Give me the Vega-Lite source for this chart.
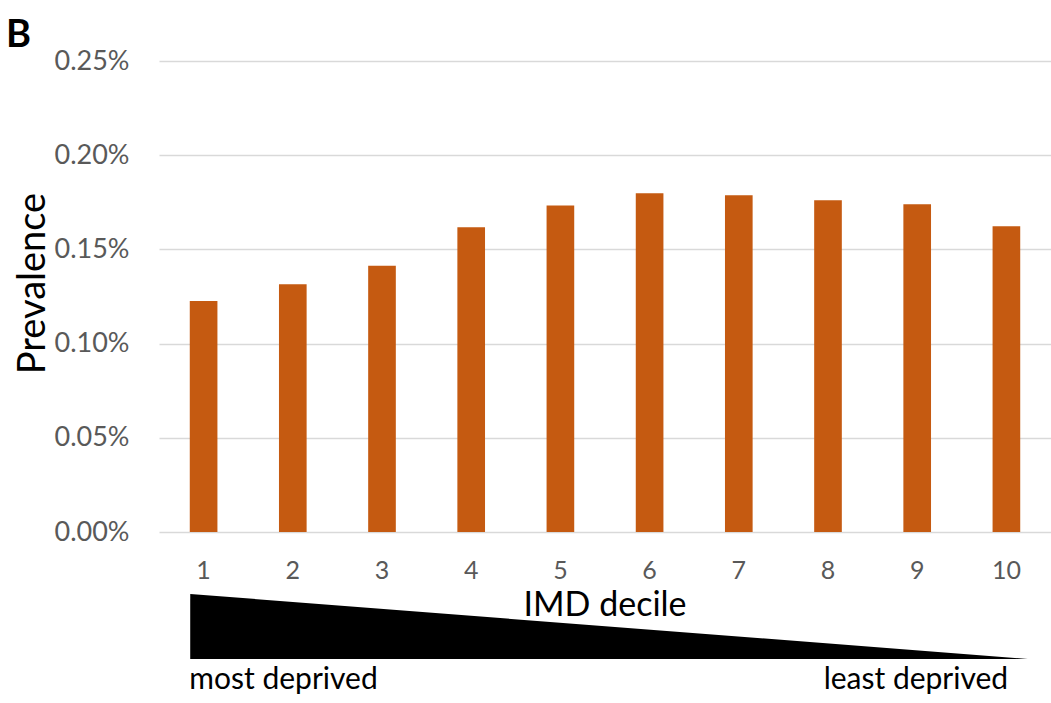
{
  "$schema": "https://vega.github.io/schema/vega-lite/v6.json",
  "padding": {"left": 6, "top": 17, "right": 0, "bottom": 0},
  "background": "white",
  "config": {"font": "Lato", "view": {"stroke": null}},
  "title": {"text": "B", "anchor": "start", "frame": "bounds", "fontSize": 38, "fontWeight": "bold", "color": "black", "offset": -8, "dx": -8},
  "bounds": "flush",
  "spacing": 62,
  "vconcat": [
    {
      "width": 892,
      "height": 471,
      "data": {"values": [
        {"decile": "1", "prevalence": 0.001226},
        {"decile": "2", "prevalence": 0.001315},
        {"decile": "3", "prevalence": 0.001413},
        {"decile": "4", "prevalence": 0.001617},
        {"decile": "5", "prevalence": 0.001733},
        {"decile": "6", "prevalence": 0.001798},
        {"decile": "7", "prevalence": 0.001787},
        {"decile": "8", "prevalence": 0.001761},
        {"decile": "9", "prevalence": 0.001739},
        {"decile": "10", "prevalence": 0.001623}
      ]},
      "mark": {"type": "bar", "color": "#c55a11", "width": {"band": 0.31}},
      "encoding": {
        "x": {
          "field": "decile", "type": "ordinal", "sort": null,
          "scale": {"paddingInner": 0, "paddingOuter": 0},
          "axis": {"labelAngle": 0, "labelFontSize": 25, "labelColor": "#595959", "labelPadding": 26, "ticks": false, "tickSize": 0, "domain": false, "grid": false, "title": null}
        },
        "y": {
          "field": "prevalence", "type": "quantitative",
          "scale": {"domain": [0, 0.0025]},
          "axis": {
            "values": [0, 0.0005, 0.001, 0.0015, 0.002, 0.0025],
            "format": ".2%",
            "labelFontSize": 27, "labelColor": "#595959", "labelPadding": 30,
            "ticks": false, "tickSize": 0, "domain": false,
            "gridColor": "#d9d9d9", "gridWidth": 1.5,
            "title": "Prevalence", "titleFontSize": 38, "titleFontWeight": "normal", "titleColor": "black",
            "titlePadding": 2, "titleY": 222
          }
        }
      }
    },
    {
      "width": 892,
      "height": 65,
      "layer": [
        {
          "data": {"values": [
            {"position": 0.85, "deprivation": 1},
            {"position": 10.24, "deprivation": 0}
          ]},
          "mark": {"type": "area", "color": "black", "clip": false},
          "encoding": {
            "x": {"field": "position", "type": "quantitative", "scale": {"domain": [0.5, 10.5], "zero": false, "nice": false}, "axis": null},
            "y": {"field": "deprivation", "type": "quantitative", "scale": {"domain": [0, 1], "nice": false}, "axis": null},
            "y2": {"datum": 0}
          }
        },
        {
          "data": {"values": [{"label": "IMD decile"}]},
          "mark": {"type": "text", "fontSize": 34, "color": "black", "align": "center", "baseline": "alphabetic"},
          "encoding": {"x": {"datum": 5.5}, "y": {"datum": 0.66}, "text": {"field": "label"}}
        },
        {
          "data": {"values": [{"label": "most deprived"}]},
          "mark": {"type": "text", "fontSize": 30, "color": "black", "align": "left", "baseline": "alphabetic"},
          "encoding": {"x": {"datum": 0.84}, "y": {"datum": -0.46}, "text": {"field": "label"}}
        },
        {
          "data": {"values": [{"label": "least deprived"}]},
          "mark": {"type": "text", "fontSize": 30, "color": "black", "align": "right", "baseline": "alphabetic"},
          "encoding": {"x": {"datum": 10.02}, "y": {"datum": -0.46}, "text": {"field": "label"}}
        }
      ]
    }
  ]
}
